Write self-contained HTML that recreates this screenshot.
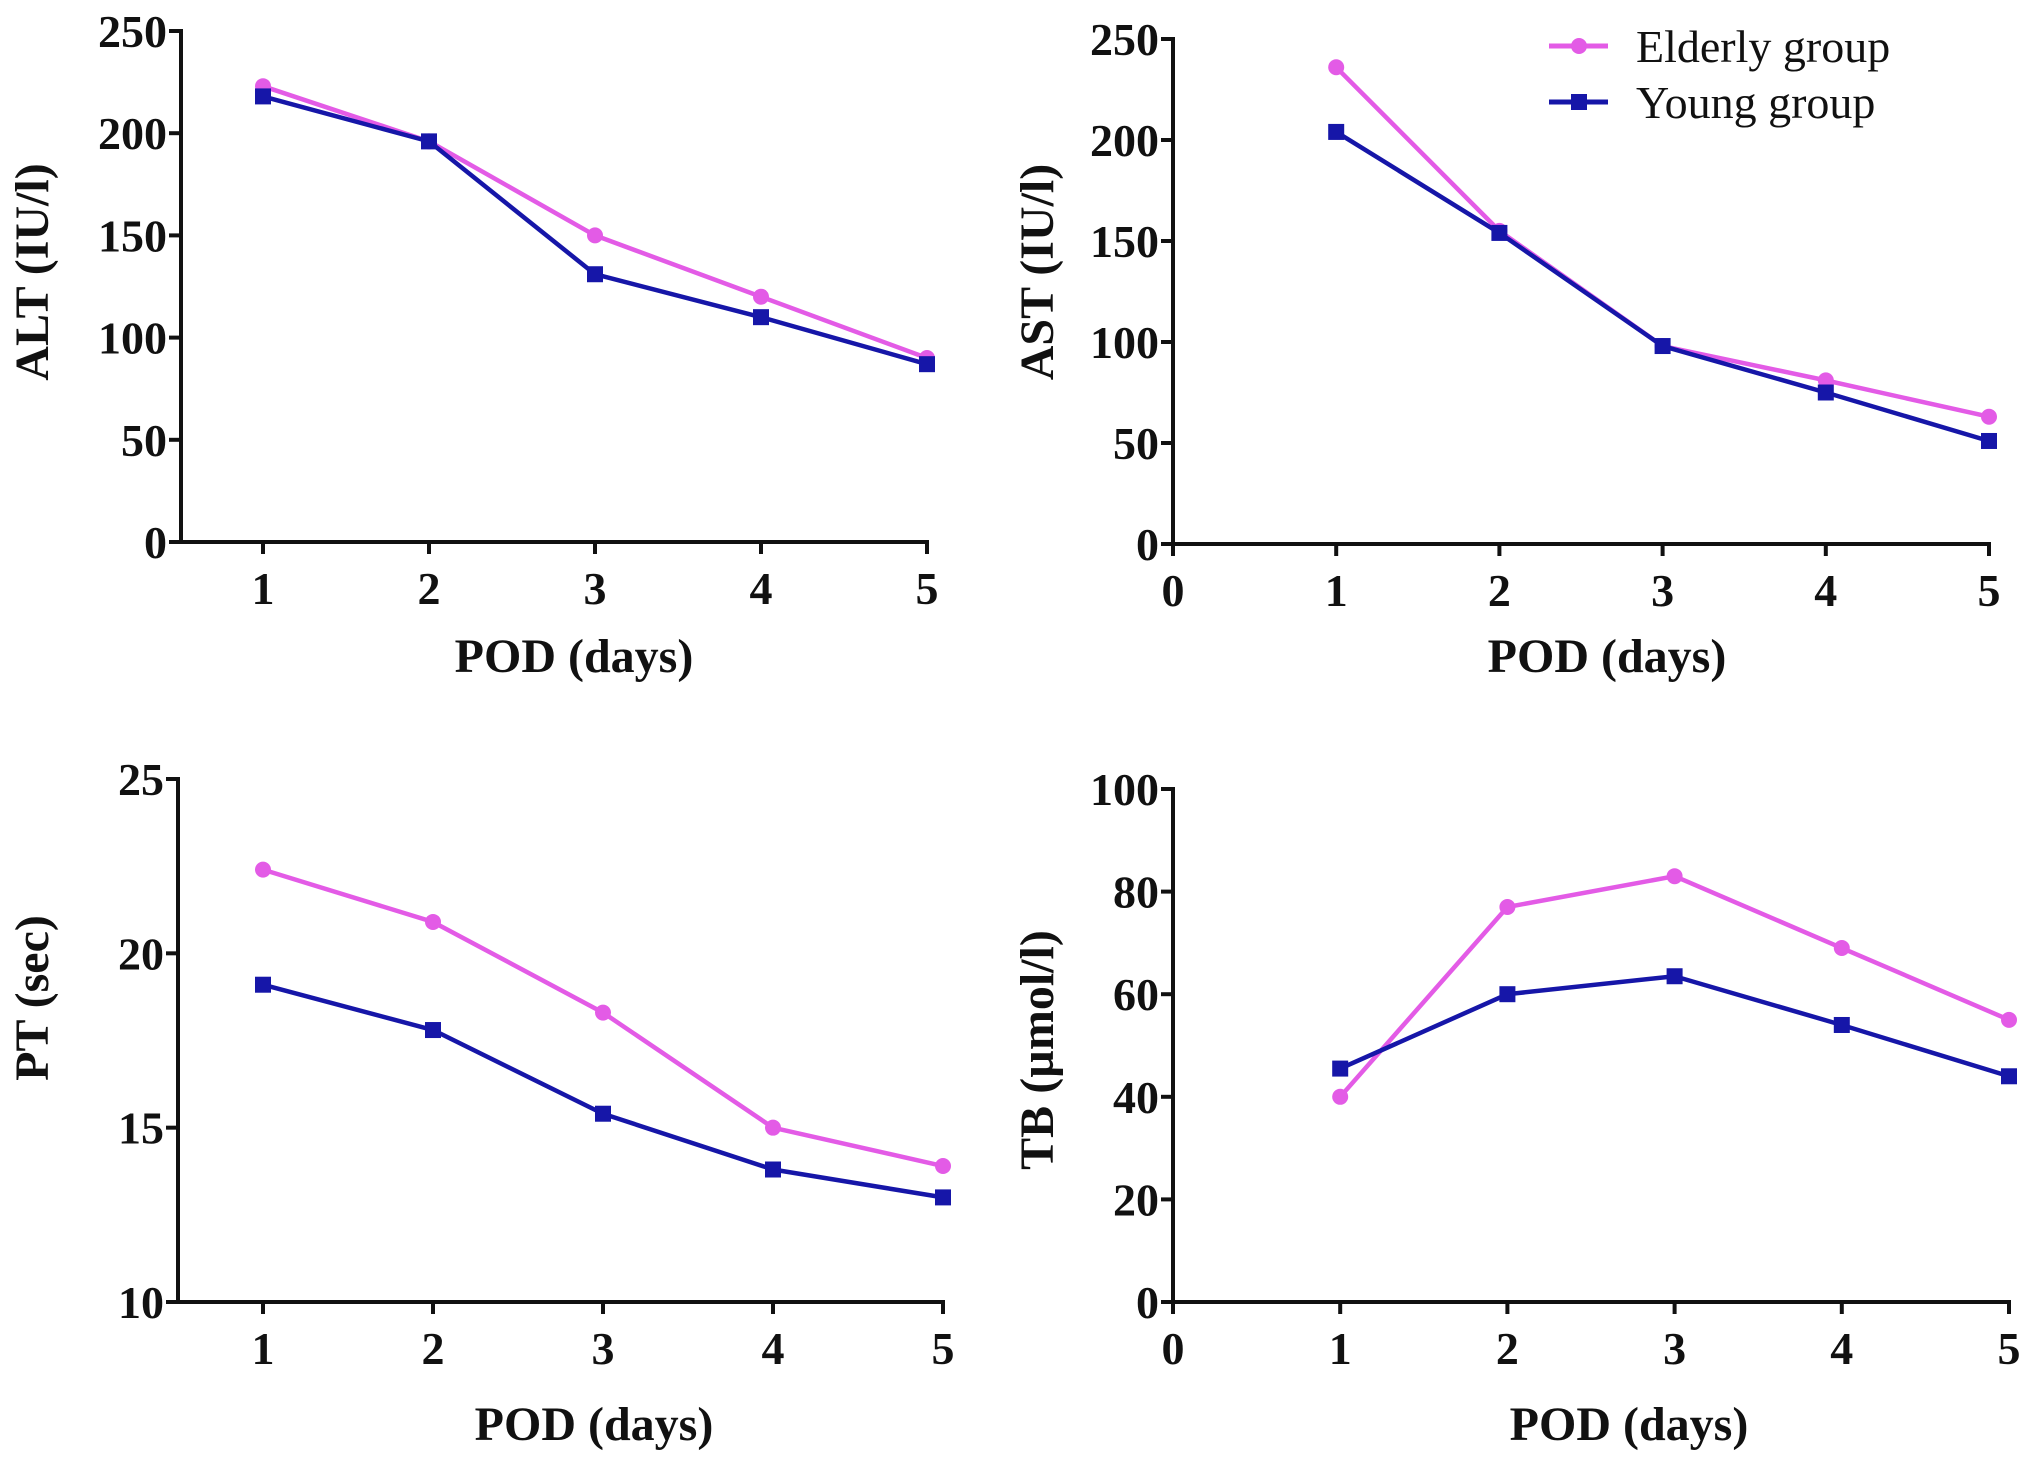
<!DOCTYPE html>
<html><head><meta charset="utf-8"><style>
html,body{margin:0;padding:0;background:#fff;}
svg{display:block;}
text{font-family:"Liberation Serif",serif;fill:#111;}
.tk{font-weight:bold;font-size:46px;}
.ttl{font-weight:bold;font-size:48px;}
.leg{font-size:46px;}
</style></head><body>
<svg id="chart" width="2031" height="1466" viewBox="0 0 2031 1466" xmlns="http://www.w3.org/2000/svg">
<g id="legend">
  <g>
    <line x1="1549" y1="46" x2="1608" y2="46" stroke="#e35be6" stroke-width="5"/>
    <circle cx="1579" cy="46" r="8" fill="#e35be6"/>
    <text class="leg" x="1636" y="62">Elderly group</text>
  </g>
  <g>
    <line x1="1549" y1="102" x2="1608" y2="102" stroke="#1616a8" stroke-width="5"/>
    <rect x="1571" y="94" width="16" height="16" fill="#1616a8"/>
    <text class="leg" x="1636" y="118">Young group</text>
  </g>
</g>
</svg>
<script>
// ALT panel data
const days = [1, 2, 3, 4, 5];
const altElderly = [223, 196, 150, 120, 90];
const altYoung = [218, 196, 131, 110, 87];
const altTicks = [0, 50, 100, 150, 200, 250];
// AST panel data
const astElderly = [236, 155, 98, 81, 63];
const astYoung = [204, 154, 98, 75, 51];
const astTicks = [0, 50, 100, 150, 200, 250];
// PT panel data
const ptElderly = [22.4, 20.9, 18.3, 15.0, 13.9];
const ptYoung = [19.1, 17.8, 15.4, 13.8, 13.0];
const ptTicks = [10, 15, 20, 25];
// TB panel data
const tbElderly = [40, 77, 83, 69, 55];
const tbYoung = [45.5, 60, 63.5, 54, 44];
const tbTicks = [0, 20, 40, 60, 80, 100];
const xTicksA = [1, 2, 3, 4, 5];
const xTicksB = [0, 1, 2, 3, 4, 5];

const NS = "http://www.w3.org/2000/svg";
const svg = document.getElementById('chart');
const PINK = "#e35be6", BLUE = "#1616a8";

function mk(tag, attrs, parent) {
  const e = document.createElementNS(NS, tag);
  for (const k in attrs) e.setAttribute(k, attrs[k]);
  parent.appendChild(e);
  return e;
}

function panel(cfg) {
  const g = mk('g', {}, svg);
  
  
  const yMin = cfg.yTicks[0], yMax = cfg.yTicks[cfg.yTicks.length - 1];
  const ys = v => cfg.y0 + (v - yMin) / (yMax - yMin) * (cfg.yTop - cfg.y0);
  const xs = v => cfg.xa + (v - cfg.xd0) / (cfg.xd1 - cfg.xd0) * (cfg.xb - cfg.xa);
  // axes
  const ya = mk('line', {x1: cfg.ax, y1: cfg.yTop - 2, x2: cfg.ax, y2: cfg.y0 + 2, stroke: '#111', 'stroke-width': 4}, g);
  
  
  const xaL = mk('line', {x1: cfg.ax - 2, y1: cfg.y0, x2: xs(cfg.xTicks[cfg.xTicks.length - 1]) + 2, y2: cfg.y0, stroke: '#111', 'stroke-width': 4}, g);
  
  
  cfg.yTicks.forEach(t => {
    const y = ys(t);
    mk('line', {x1: cfg.ax - 12, y1: y, x2: cfg.ax, y2: y, stroke: '#111', 'stroke-width': 4}, g);
    const tx = mk('text', {x: cfg.ax - 14, y: y + 16, 'text-anchor': 'end', class: 'tk'}, g);
    tx.textContent = t;
    
    
  });
  cfg.xTicks.forEach(t => {
    const x = xs(t);
    mk('line', {x1: x, y1: cfg.y0, x2: x, y2: cfg.y0 + 12, stroke: '#111', 'stroke-width': 4}, g);
    const tx = mk('text', {x: x, y: cfg.y0 + 62, 'text-anchor': 'middle', class: 'tk'}, g);
    tx.textContent = t;
    
    
  });
  const xt = mk('text', {x: cfg.xtX, y: cfg.xtY, 'text-anchor': 'middle', class: 'ttl'}, g);
  xt.textContent = 'POD (days)';
  
  
  const yt = mk('text', {x: 0, y: 0, 'text-anchor': 'middle', class: 'ttl', transform: `translate(${cfg.ytX},${cfg.ytY}) rotate(-90)`}, g);
  yt.textContent = cfg.yTitle;
  
  
  // series
  [[cfg.elderly, PINK, 'circle', 'elderly'], [cfg.young, BLUE, 'square', 'young']].forEach(([vals, col, shape, nm]) => {
    const pts = vals.map((v, i) => [xs(days[i]), ys(v)]);
    const pl = mk('polyline', {points: pts.map(p => p.join(',')).join(' '), fill: 'none', stroke: col, 'stroke-width': 4.5, 'stroke-linejoin': 'round'}, g);
    
    
    pts.forEach(p => {
      let m;
      if (shape === 'circle') m = mk('circle', {cx: p[0], cy: p[1], r: 8, fill: col}, g);
      else m = mk('rect', {x: p[0] - 8, y: p[1] - 8, width: 16, height: 16, fill: col}, g);
      
      
    });
  });
}

panel({name: 'alt-panel', ax: 181, y0: 542, yTop: 31, xa: 263, xb: 927, xd0: 1, xd1: 5, xTicks: xTicksA, yTicks: altTicks,
  elderly: altElderly, young: altYoung, yTitle: 'ALT (IU/l)', xtX: 574, xtY: 672, ytX: 48, ytY: 272});
panel({name: 'ast-panel', ax: 1173, y0: 544, yTop: 39, xa: 1173, xb: 1989, xd0: 0, xd1: 5, xTicks: xTicksB, yTicks: astTicks,
  elderly: astElderly, young: astYoung, yTitle: 'AST (IU/l)', xtX: 1607, xtY: 672, ytX: 1053, ytY: 272});
panel({name: 'pt-panel', ax: 178, y0: 1302, yTop: 779, xa: 263, xb: 943, xd0: 1, xd1: 5, xTicks: xTicksA, yTicks: ptTicks,
  elderly: ptElderly, young: ptYoung, yTitle: 'PT (sec)', xtX: 594, xtY: 1440, ytX: 48, ytY: 998});
panel({name: 'tb-panel', ax: 1173, y0: 1302, yTop: 789, xa: 1173, xb: 2009, xd0: 0, xd1: 5, xTicks: xTicksB, yTicks: tbTicks,
  elderly: tbElderly, young: tbYoung, yTitle: 'TB (µmol/l)', xtX: 1629, xtY: 1440, ytX: 1053, ytY: 1050});
</script>
</body></html>
